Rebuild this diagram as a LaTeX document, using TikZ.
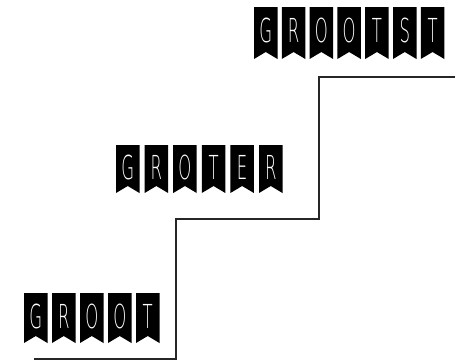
\documentclass[tikz,border=0pt]{standalone}
\usepackage{fontspec}
\usepackage{graphicx}
\newfontfamily\thinfont{DejaVu Sans ExtraLight}
\newcommand\flagletter[1]{\scalebox{0.5}[1]{\fontsize{33}{33}\selectfont\thinfont #1}}
\begin{document}
\begin{tikzpicture}[x=1pt,y=-1pt,
  stair/.style={draw=black!85,line width=1.4pt},
  flagfill/.style={fill=black},
  letter/.style={text=white,inner sep=0pt}]
\useasboundingbox (0,0) rectangle (455,362);
% staircase
\coordinate (s0) at (34,359);
\coordinate (s1) at (176,359);
\coordinate (s2) at (176,219);
\coordinate (s3) at (319,219);
\coordinate (s4) at (319,77);
\coordinate (s5) at (455,77);
\draw[stair] (s0) -- (s1) -- (s2) -- (s3) -- (s4) -- (s5);
% GROOT
\foreach \l [count=\i from 0] in {G,R,O,O,T}{
  \pgfmathsetmacro\xx{24+28*\i}
  \fill[flagfill] (\xx,293) -- ++(23.5,0) -- ++(0,50) -- ++(-11.75,-7) -- ++(-11.75,7) -- cycle;
  \node[letter] (a\i) at (\xx+11.75,316) {\flagletter{\l}};
}
% GROTER
\foreach \l [count=\i from 0] in {G,R,O,T,E,R}{
  \pgfmathsetmacro\xx{116+28.6*\i}
  \fill[flagfill] (\xx,145) -- ++(23.5,0) -- ++(0,48) -- ++(-11.75,-7) -- ++(-11.75,7) -- cycle;
  \node[letter] (b\i) at (\xx+11.75,167) {\flagletter{\l}};
}
% GROOTST
\foreach \l [count=\i from 0] in {G,R,O,O,T,S,T}{
  \pgfmathsetmacro\xx{254+27.8*\i}
  \fill[flagfill] (\xx,7) -- ++(23.5,0) -- ++(0,52) -- ++(-11.75,-7) -- ++(-11.75,7) -- cycle;
  \node[letter] (c\i) at (\xx+11.75,30) {\flagletter{\l}};
}
\end{tikzpicture}
\end{document}
